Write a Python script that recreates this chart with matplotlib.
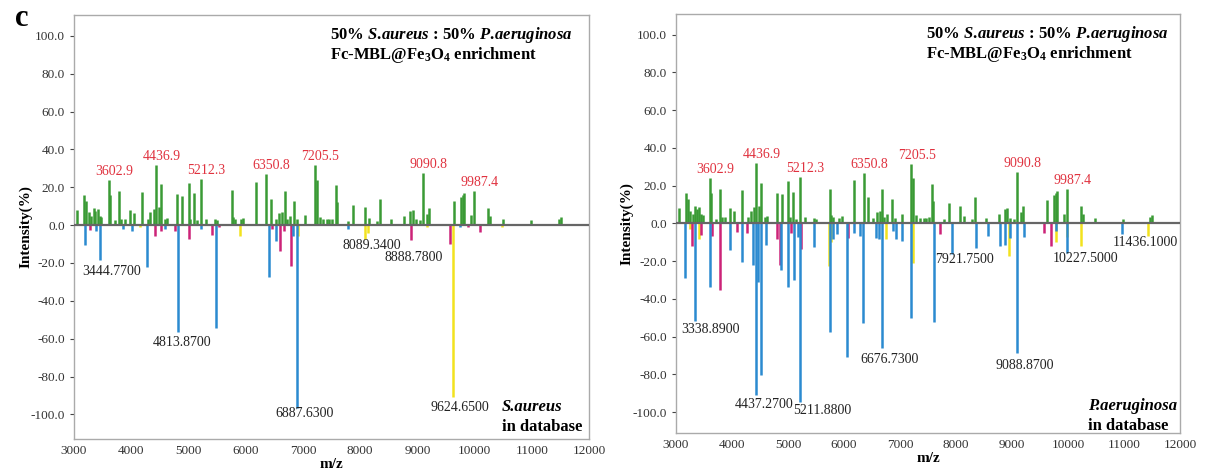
import matplotlib
matplotlib.use("Agg")
import matplotlib.pyplot as plt
from matplotlib.ticker import FormatStrFormatter, MultipleLocator

plt.rcParams['font.family'] = ['Liberation Serif', 'DejaVu Serif']
plt.rcParams['axes.unicode_minus'] = False
plt.rcParams['mathtext.fontset'] = 'custom'
plt.rcParams['mathtext.rm'] = 'Liberation Serif:bold'
plt.rcParams['mathtext.it'] = 'Liberation Serif:italic:bold'
plt.rcParams['mathtext.bf'] = 'Liberation Serif:bold'

# measured spectrum of the 50/50 mixture (same in both panels)
mix_mz = [3060, 3171, 3206, 3253, 3299, 3340, 3369, 3416, 3445, 3474, 3603, 3632, 3720,
          3790, 3819, 3883, 3971, 4041, 4187, 4292, 4333, 4391, 4437, 4479, 4525, 4595,
          4630, 4800, 4887, 5004, 5033, 5092, 5150, 5212, 5308, 5471, 5501, 5752, 5775,
          5810, 5909, 5956, 6184, 6351, 6435, 6522, 6581, 6639, 6686, 6715, 6773, 6849,
          6902, 7036, 7205, 7240, 7293, 7357, 7427, 7456, 7515, 7575, 7596, 7781, 7881,
          8076, 8147, 8294, 8341, 8542, 8766, 8872, 8920, 8973, 9038, 9091, 9162, 9197,
          9634, 9758, 9790, 9811, 9935, 9987, 10241, 10271, 10489, 10979, 11468, 11504]
mix_int = [8.2, 16.0, 12.8, 6.8, 4.8, 9.0, 7.7, 8.5, 5.0, 4.3, 24.0, 16.0, 2.6,
           18.3, 3.4, 3.4, 8.0, 6.5, 17.6, 3.4, 6.8, 8.5, 32.0, 9.4, 21.5, 3.4,
           3.9, 16.2, 15.4, 22.5, 3.4, 16.8, 2.6, 24.6, 3.4, 3.1, 2.6, 18.5, 4.3,
           3.4, 3.1, 3.8, 23.0, 26.8, 14.0, 3.1, 6.3, 6.8, 18.0, 3.4, 4.8, 12.8,
           3.1, 5.1, 31.6, 24.0, 4.3, 3.1, 3.1, 3.1, 3.4, 21.0, 12.0, 2.2, 10.8,
           9.4, 4.0, 2.2, 14.0, 3.0, 4.8, 7.4, 8.2, 3.0, 2.6, 27.5, 6.0, 9.0,
           12.5, 15.0, 16.0, 17.0, 5.1, 18.0, 9.0, 4.8, 3.0, 2.5, 3.5, 4.5]
peak_labels = [3602.9, 4436.9, 5212.3, 6350.8, 7205.5, 9090.8, 9987.4]

# database spectrum, S.aureus (b = blue, m = magenta, y = yellow)
sa_mz = [3194, 3382, 3444.77, 3851, 4018, 4273, 4587, 4813.87, 5224, 5478, 6403, 6530,
         6831, 6887.63, 7789, 9745,
         3275, 4420, 4520, 4768, 5016, 5405, 5539, 6463, 6590, 6677, 6798, 8888.78,
         9577, 9879, 10100,
         4152, 5907, 6905, 8089.34, 8137, 9162, 9624.65, 10482]
sa_int = [-10.5, -3.0, -18.5, -2.0, -3.0, -22.2, -2.0, -56.4, -2.0, -54.6, -27.4, -8.4,
          -5.7, -96.4, -2.0, -1.0,
          -2.5, -6.0, -3.0, -3.0, -7.5, -5.0, -1.0, -2.0, -13.7, -3.0, -21.4, -8.0,
          -10.0, -1.0, -3.6,
          -1.0, -5.7, -6.0, -7.5, -4.0, -1.0, -90.6, -1.0]
sa_grp = ['b'] * 16 + ['m'] * 15 + ['y'] * 8

# database spectrum, P.aeruginosa
pa_mz = [3164, 3338.89, 3602, 3965, 4184, 4382, 4437.27, 4470, 4526, 4608, 4882, 4998,
         5108, 5176, 5211.88, 5470, 5744, 5799, 5881, 6045, 6175, 6278, 6346, 6565,
         6620, 6676.73, 6874, 6921, 7031, 7202, 7606, 7921.75, 8359, 8571, 8790, 8879,
         8968, 9088.87, 9214, 9782, 9988, 10960,
         3294, 3451, 3643, 3793, 4088, 4273, 4800, 4854, 5046, 5237, 6066, 7715, 9577,
         9700,
         3246, 3403, 5730, 5760, 6757, 7236, 8941, 9782, 9974, 10227.5, 11436.1]
pa_int = [-29.0, -51.6, -33.7, -14.2, -20.6, -21.8, -91.0, -31.2, -80.3, -11.2, -24.8,
          -33.7, -29.8, -7.0, -94.5, -12.4, -57.3, -8.5, -5.5, -70.9, -5.0, -6.4, -52.5,
          -7.6, -8.2, -66.1, -4.0, -8.2, -9.4, -50.2, -52.0, -16.0, -13.0, -6.7, -12.0,
          -11.2, -7.6, -68.4, -7.0, -4.0, -15.6, -5.8,
          -12.0, -6.0, -6.7, -35.0, -4.4, -5.0, -8.5, -21.8, -5.3, -13.5, -7.6, -5.8,
          -5.3, -11.7,
          -3.0, -8.5, -22.3, -10.0, -8.2, -21.0, -17.4, -10.0, -7.0, -12.0, -6.4]
pa_grp = ['b'] * 42 + ['m'] * 14 + ['y'] * 11

# database labels with their text anchor (m/z, intensity)
sa_labels = ['3444.7700', '4813.8700', '6887.6300', '8089.3400', '8888.7800', '9624.6500']
sa_label_pos = [(3650, -24.4), (4895, -62.0), (7026, -99.6), (8204, -10.7),
                (8928, -16.9), (9745, -96.4)]
pa_labels = ['3338.8900', '4437.2700', '5211.8800', '6676.7300', '7921.7500',
             '9088.8700', '10227.5000', '11436.1000']
pa_label_pos = [(3616, -56.4), (4574, -95.7), (5615, -99.0), (6806, -71.8),
                (8148, -19.3), (9236, -75.5), (10317, -18.8), (11378, -10.3)]

GREEN = '#3a9a35'
COLORS = {'b': '#2b8ad0', 'm': '#cc2378', 'y': '#f2e21e'}
RED = '#e0323f'


def draw_panel(ax, db_mz, db_int, db_grp, labels, label_pos, species, ylim, sp_xy):
    ax.vlines(mix_mz, 0, mix_int, color=GREEN, linewidth=1.8)
    for g in ['y', 'm', 'b']:
        xs = [m for m, k in zip(db_mz, db_grp) if k == g]
        ys = [v for v, k in zip(db_int, db_grp) if k == g]
        ax.vlines(xs, 0, ys, color=COLORS[g], linewidth=1.8)
    ax.axhline(0, color='#666666', linewidth=1.6, zorder=3)

    # red labels of the main peaks
    for p in peak_labels:
        h = max(v for m, v in zip(mix_mz, mix_int) if abs(m - p) < 15)
        ax.text(p + 100, h + 4.5, "{:.1f}".format(p), color=RED, fontsize=10,
                ha='center', va='center')
    for t, (x, y) in zip(labels, label_pos):
        ax.text(x, y, t, fontsize=10, ha='center', va='center', color='#222222')

    ax.text(0.497, 0.953, r"50% $\mathit{S.\!aureus}$ : 50% $\mathit{P.\!aeruginosa}$",
            transform=ax.transAxes, fontsize=12, fontweight='bold', va='center')
    ax.text(0.497, 0.905, r"Fc-MBL@Fe$_3$O$_4$ enrichment",
            transform=ax.transAxes, fontsize=12, fontweight='bold', va='center')
    sx, sy = sp_xy
    ax.text(sx, sy, species, transform=ax.transAxes, fontsize=12,
            fontweight='bold', fontstyle='italic', ha='left', va='center')
    ax.text(sx, sy - 0.048, "in database", transform=ax.transAxes, fontsize=12,
            fontweight='bold', ha='left', va='center')

    ax.set_xlim(3000, 12000)
    ax.set_ylim(*ylim)
    ax.xaxis.set_major_locator(MultipleLocator(1000))
    ax.yaxis.set_major_locator(MultipleLocator(20))
    ax.yaxis.set_major_formatter(FormatStrFormatter('%.1f'))
    ax.tick_params(labelsize=9.5, length=3, width=0.8, colors='#444444', labelcolor='#333333')
    ax.tick_params(axis='x', length=0, pad=4)
    for s in ax.spines.values():
        s.set_color('#aaaaaa')
        s.set_linewidth(1.0)
    ax.set_xlabel("m/z", fontsize=11, fontweight='bold', labelpad=1)
    ax.set_ylabel("Intensity(%)", fontsize=11, fontweight='bold', labelpad=-1)


fig = plt.figure(figsize=(12.22, 4.72), dpi=100)
ax1 = fig.add_axes([0.0606, 0.070, 0.4215, 0.898])
ax2 = fig.add_axes([0.5532, 0.0826, 0.4124, 0.888])

draw_panel(ax1, sa_mz, sa_int, sa_grp, sa_labels, sa_label_pos, "S.aureus",
           (-113, 111), (0.831, 0.076))
draw_panel(ax2, pa_mz, pa_int, pa_grp, pa_labels, pa_label_pos, "P.aeruginosa",
           (-111, 111), (0.817, 0.064))

fig.text(0.012, 0.945, "c", fontsize=22, fontweight='bold')

fig.savefig("out.png", dpi=100)
